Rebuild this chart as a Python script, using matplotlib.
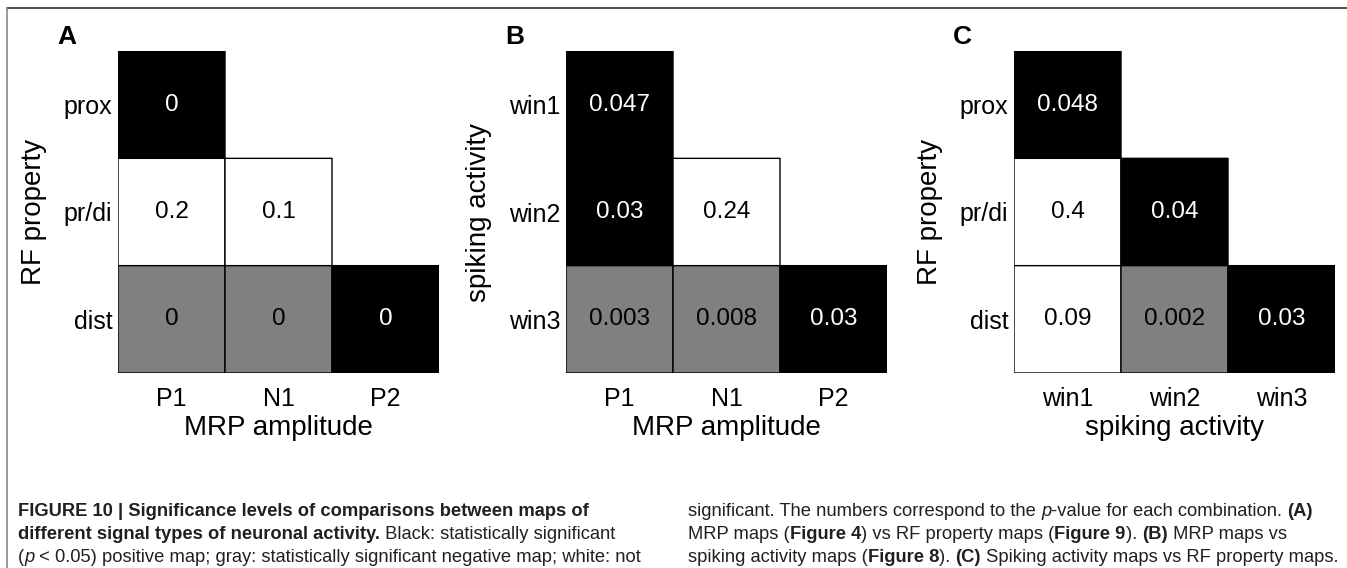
import numpy as np
import matplotlib
matplotlib.use("Agg")
import matplotlib.pyplot as plt
from matplotlib.colors import ListedColormap
from matplotlib.lines import Line2D

plt.rcParams['font.family'] = ['Liberation Sans', 'DejaVu Sans']

# data: 1 = significant positive (black), 2 = significant negative (gray), 0 = n.s. (white)
nan = np.nan
rows_a = ['prox', 'pr/di', 'dist']
cols_a = ['P1', 'N1', 'P2']
sig_a = [[1, nan, nan], [0, 0, nan], [2, 2, 1]]
pval_a = [['0', '', ''], ['0.2', '0.1', ''], ['0', '0', '0']]

rows_b = ['win1', 'win2', 'win3']
cols_b = ['P1', 'N1', 'P2']
sig_b = [[1, nan, nan], [1, 0, nan], [2, 2, 1]]
pval_b = [['0.047', '', ''], ['0.03', '0.24', ''], ['0.003', '0.008', '0.03']]

rows_c = ['prox', 'pr/di', 'dist']
cols_c = ['win1', 'win2', 'win3']
sig_c = [[1, nan, nan], [0, 1, nan], [0, 2, 1]]
pval_c = [['0.048', '', ''], ['0.4', '0.04', ''], ['0.09', '0.002', '0.03']]

panels = [
    ('A', rows_a, cols_a, sig_a, pval_a, 'RF property', 'MRP amplitude'),
    ('B', rows_b, cols_b, sig_b, pval_b, 'spiking activity', 'MRP amplitude'),
    ('C', rows_c, cols_c, sig_c, pval_c, 'RF property', 'spiking activity'),
]

W, H = 1347, 568
fig = plt.figure(figsize=(W / 100, H / 100), dpi=100)

cmap = ListedColormap(['white', 'black', '#808080'])
lefts = [118, 566, 1014]
cell_top, cell_bot = 51, 373
size = 321

for (letter, rows, cols, sig, pv, ylab, xlab), left in zip(panels, lefts):
    ax = fig.add_axes([left / W, 1 - cell_bot / H, size / W, (cell_bot - cell_top) / H])
    data = np.ma.masked_invalid(np.array(sig, dtype=float))
    ax.pcolor(data, cmap=cmap, vmin=-0.5, vmax=2.5, edgecolors='black', linewidth=1.0)
    ax.set_xlim(0, len(cols))
    ax.set_ylim(len(rows), 0)
    for i in range(len(rows)):
        for j in range(len(cols)):
            if pv[i][j] == '':
                continue
            c = 'white' if sig[i][j] == 1 else 'black'
            ax.text(j + 0.5, i + 0.5, pv[i][j], ha='center', va='center',
                    fontsize=17.5, color=c)
    ax.set_xticks(np.arange(len(cols)) + 0.5)
    ax.set_xticklabels(cols)
    ax.set_yticks(np.arange(len(rows)) + 0.5)
    ax.set_yticklabels(rows)
    ax.tick_params(length=0, labelsize=18)
    ax.tick_params(axis='x', pad=10)
    ax.tick_params(axis='y', pad=4)
    for s in ax.spines.values():
        s.set_visible(False)
    ax.set_xlabel(xlab, fontsize=20, labelpad=3)
    ax.set_ylabel(ylab, fontsize=20, labelpad=12)
    fig.text((left - 61) / W, 1 - 37 / H, letter, fontsize=19, fontweight='bold',
             ha='left', va='center')

# frame lines
fig.add_artist(Line2D([7 / W, 1], [1 - 8 / H, 1 - 8 / H], color='#333333', lw=1.2))
fig.add_artist(Line2D([7 / W, 7 / W], [0, 1 - 8 / H], color='#888888', lw=1.2))

# caption
cap_family = ['Liberation Sans', 'DejaVu Sans']
cap_size = 13.2
renderer = fig.canvas.get_renderer()


def rich_line(x, y, segments):
    for txt, w, st in segments:
        t = fig.text(x / W, 1 - y / H, txt, fontsize=cap_size, fontweight=w,
                     fontstyle=st, family=cap_family, va='baseline', ha='left',
                     color='#231f20')
        bb = t.get_window_extent(renderer)
        x += bb.width


N, B, I = 'normal', 'bold', 'italic'
left_lines = [
    [('FIGURE 10 | Significance levels of comparisons between maps of', B, N)],
    [('different signal types of neuronal activity.', B, N), (' Black: statistically significant', N, N)],
    [('(', N, N), ('p', N, I), (' < 0.05) positive map; gray: statistically significant negative map; white: not', N, N)],
]
right_lines = [
    [('significant. The numbers correspond to the ', N, N), ('p', N, I),
     ('-value for each combination. ', N, N), ('(A)', B, N)],
    [('MRP maps (', N, N), ('Figure 4', B, N), (') vs RF property maps (', N, N),
     ('Figure 9', B, N), ('). ', N, N), ('(B)', B, N), (' MRP maps vs', N, N)],
    [('spiking activity maps (', N, N), ('Figure 8', B, N), ('). ', N, N),
     ('(C)', B, N), (' Spiking activity maps vs RF property maps.', N, N)],
]
baselines = [516, 539, 562]
for segs, yb in zip(left_lines, baselines):
    rich_line(18, yb, segs)
for segs, yb in zip(right_lines, baselines):
    rich_line(688, yb, segs)

fig.savefig('out.png', dpi=100)
